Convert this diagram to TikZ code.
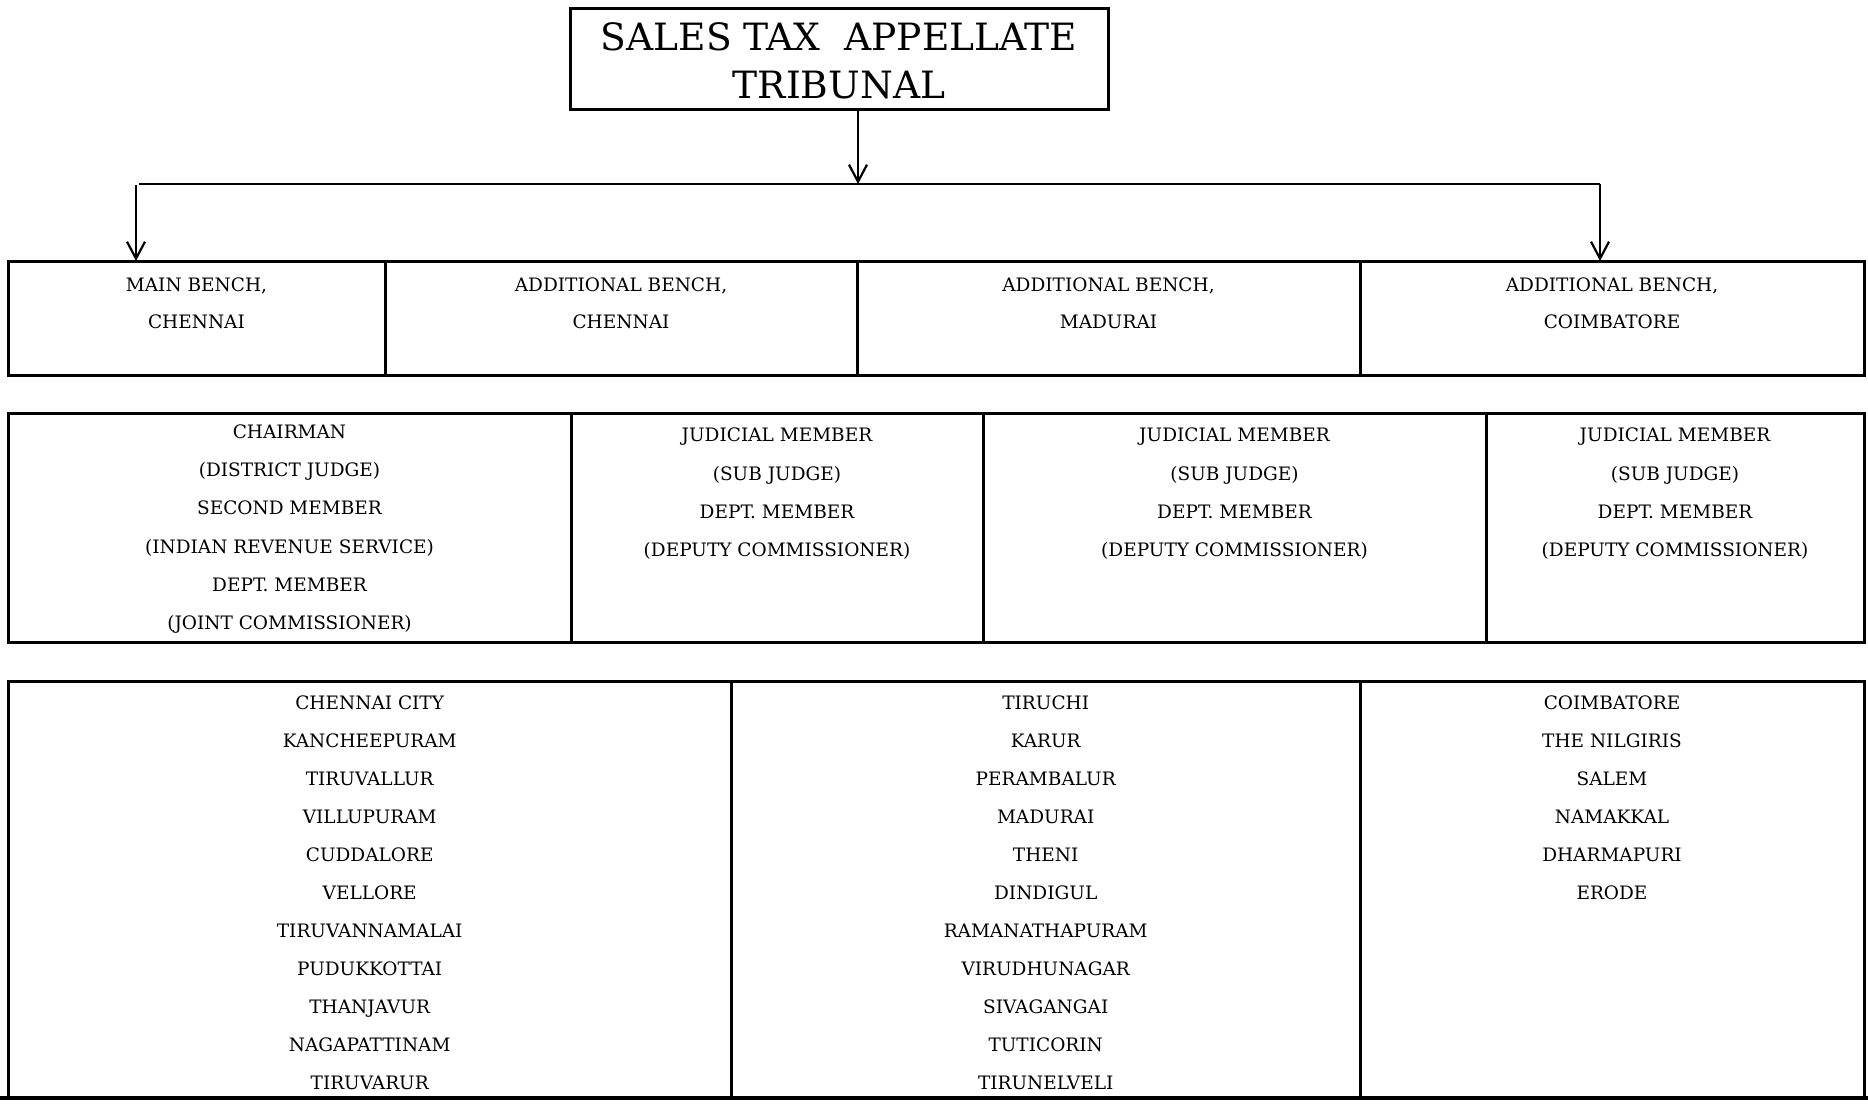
\documentclass[tikz,border=0pt]{standalone}
\usepackage{fontspec}
\setmainfont{DejaVu Serif}
\usetikzlibrary{arrows.meta}
\begin{document}
\begin{tikzpicture}[x=1pt,y=-1pt,
  cell/.style={draw=black, line width=3pt, anchor=north west, inner sep=0pt, outer sep=0pt},
  lbl/.style={font=\fontsize{18.5}{22}\selectfont, anchor=base, inner sep=0pt},
  ttl/.style={font=\fontsize{37.6}{44}\selectfont, anchor=base, inner sep=0pt},
  conn/.style={line width=2.2pt, -{Straight Barb[length=17pt,width=18pt,line width=2.2pt]}},
  bar/.style={line width=2.8pt}
]
\useasboundingbox (0,0) rectangle (1868,1104);
% title
\node[cell, minimum width=538pt, minimum height=101pt] (title) at (570,8) {};
\node[ttl] (t1) at (839,50.2) {SALES TAX\ \ APPELLATE};
\node[ttl] (t2) at (839,98.5) {TRIBUNAL};
% bench row
\node[cell, minimum width=377pt, minimum height=114pt] (b1) at (8,261) {};
\node[cell, minimum width=472pt, minimum height=114pt] (b2) at (385,261) {};
\node[cell, minimum width=503pt, minimum height=114pt] (b3) at (857,261) {};
\node[cell, minimum width=504pt, minimum height=114pt] (b4) at (1360,261) {};
% connectors
\coordinate (tA) at (858,184);
\coordinate (hL) at (139,184);
\coordinate (hR) at (1600,184);
\coordinate (aL) at (136,185);
\draw[conn] (title.south -| tA) -- (tA);
\draw[bar] (hL) -- (hR);
\draw[conn] (aL) -- (aL |- b1.north);
\draw[conn] (hR) -- (hR |- b4.north);
% bench labels
\node[lbl] (b1a) at (196.5,291.7) {MAIN BENCH,};
\node[lbl] (b1b) at (196.5,328.5) {CHENNAI};
\node[lbl] (b2a) at (621,291.7) {ADDITIONAL BENCH,};
\node[lbl] (b2b) at (621,328.5) {CHENNAI};
\node[lbl] (b3a) at (1108.5,291.7) {ADDITIONAL BENCH,};
\node[lbl] (b3b) at (1108.5,328.5) {MADURAI};
\node[lbl] (b4a) at (1612,291.7) {ADDITIONAL BENCH,};
\node[lbl] (b4b) at (1612,328.5) {COIMBATORE};
% members row
\node[cell, minimum width=563pt, minimum height=229pt] (m1) at (8,413) {};
\node[cell, minimum width=412pt, minimum height=229pt] (m2) at (571,413) {};
\node[cell, minimum width=503pt, minimum height=229pt] (m3) at (983,413) {};
\node[cell, minimum width=378pt, minimum height=229pt] (m4) at (1486,413) {};
\foreach \t [count=\i] in {CHAIRMAN,(DISTRICT JUDGE),SECOND MEMBER,(INDIAN REVENUE SERVICE),DEPT. MEMBER,(JOINT COMMISSIONER)}
  \node[lbl] (m1t\i) at (289.5,{438.5+38.2*(\i-1)}) {\t};
\foreach \x/\n in {777/2,1234.5/3,1675/4}
  \foreach \t [count=\i] in {JUDICIAL MEMBER,(SUB JUDGE),DEPT. MEMBER,(DEPUTY COMMISSIONER)}
    \node[lbl] (m\n t\i) at (\x,{441.8+38.2*(\i-1)}) {\t};
% districts row
\node[cell, minimum width=723.5pt, minimum height=417pt] (d1) at (8,681) {};
\node[cell, minimum width=628.5pt, minimum height=417pt] (d2) at (731.5,681) {};
\node[cell, minimum width=504pt, minimum height=417pt] (d3) at (1360,681) {};
\coordinate (bl) at (0,1098);
\coordinate (br) at (1868,1098);
\draw[line width=3.4pt] (bl) -- (br);
\foreach \t [count=\i] in {CHENNAI CITY,KANCHEEPURAM,TIRUVALLUR,VILLUPURAM,CUDDALORE,VELLORE,TIRUVANNAMALAI,PUDUKKOTTAI,THANJAVUR,NAGAPATTINAM,TIRUVARUR}
  \node[lbl] (d1t\i) at (369.7,{709.5+38*(\i-1)}) {\t};
\foreach \t [count=\i] in {TIRUCHI,KARUR,PERAMBALUR,MADURAI,THENI,DINDIGUL,RAMANATHAPURAM,VIRUDHUNAGAR,SIVAGANGAI,TUTICORIN,TIRUNELVELI}
  \node[lbl] (d2t\i) at (1045.7,{709.5+38*(\i-1)}) {\t};
\foreach \t [count=\i] in {COIMBATORE,THE NILGIRIS,SALEM,NAMAKKAL,DHARMAPURI,ERODE}
  \node[lbl] (d3t\i) at (1612,{709.5+38*(\i-1)}) {\t};
\end{tikzpicture}
\end{document}
